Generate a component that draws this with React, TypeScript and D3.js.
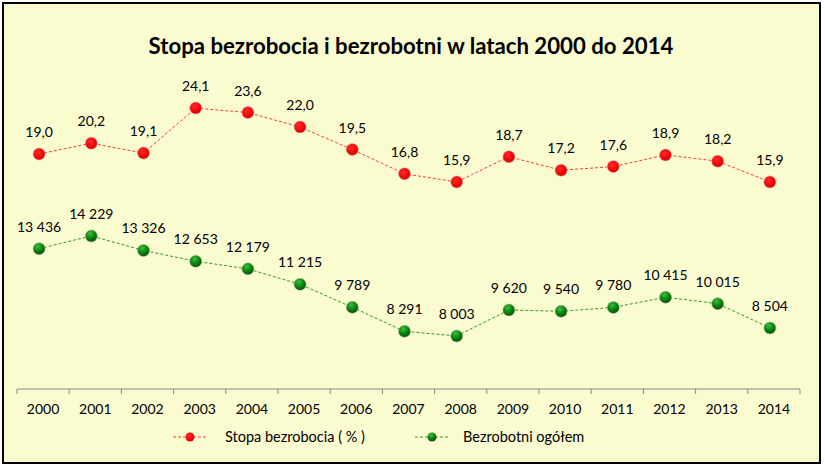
import React from "react";
import * as d3 from "d3";

const years = ["2000","2001","2002","2003","2004","2005","2006","2007","2008","2009","2010","2011","2012","2013","2014"];
const rate = [19.0, 20.2, 19.1, 24.1, 23.6, 22.0, 19.5, 16.8, 15.9, 18.7, 17.2, 17.6, 18.9, 18.2, 15.9];
const unemployed = [13436, 14229, 13326, 12653, 12179, 11215, 9789, 8291, 8003, 9620, 9540, 9780, 10415, 10015, 8504];
const title = "Stopa bezrobocia i bezrobotni w latach 2000 do 2014";
const seriesNames = ["Stopa bezrobocia ( % )", "Bezrobotni ogółem"];

const W = 825, H = 468;
const FONT = "Lato, 'Noto Sans', sans-serif";

export default function App() {
  const x = d3.scaleBand<string>().domain(years).range([17, 800]).padding(0);
  const bw = x.bandwidth();
  const px = (y: string) => (x(y) as number) + bw / 2 - 4;
  const yR = d3.scaleLinear().domain([15, 25]).range([190, 100]);
  const yG = d3.scaleLinear().domain([0, 16000]).range([464.5, 207.5]);
  const fmtR = (v: number) => d3.format(".1f")(v).replace(".", ",");
  const fmtG = (v: number) => d3.format(",")(v).replace(/,/g, " ");
  const lineR = d3.line<number>().x((_, i) => px(years[i])).y((d) => yR(d));
  const lineG = d3.line<number>().x((_, i) => px(years[i])).y((d) => yG(d));
  const axisY = 389;
  const ticks = years.map((y) => x(y) as number).concat([800]);

  return (
    <svg width={W} height={H} style={{ position: "absolute", left: 0, top: 0 }} fontFamily={FONT}>
      <defs>
        <radialGradient id="gRed" cx="40%" cy="35%" r="65%">
          <stop offset="0%" stopColor="#ff2a2a" />
          <stop offset="80%" stopColor="#ee0000" />
          <stop offset="100%" stopColor="#c01010" />
        </radialGradient>
        <radialGradient id="gGreen" cx="40%" cy="30%" r="70%">
          <stop offset="0%" stopColor="#3fbf3f" />
          <stop offset="50%" stopColor="#108a10" />
          <stop offset="100%" stopColor="#045004" />
        </radialGradient>
      </defs>
      <rect x={3} y={3} width={817} height={460} fill="#FBFBD0" stroke="#000" strokeWidth={2} />
      <text x={411} y={54} textAnchor="middle" fontSize={22.2} fontWeight="bold" fill="#000">{title}</text>

      <line x1={17} x2={800} y1={axisY} y2={axisY} stroke="#888" strokeWidth={1} />
      {ticks.map((t, i) => (
        <line key={i} x1={t} x2={t} y1={axisY} y2={axisY + 5} stroke="#888" strokeWidth={1} />
      ))}
      {years.map((y) => (
        <text key={y} x={(x(y) as number) + bw / 2} y={414} textAnchor="middle" fontSize={14} fill="#000">{y}</text>
      ))}

      <path d={lineR(rate) as string} fill="none" stroke="#ff3b3b" strokeWidth={1} strokeDasharray="3,2" />
      <path d={lineG(unemployed) as string} fill="none" stroke="#2e9a2e" strokeWidth={1} strokeDasharray="3,2" />

      {rate.map((v, i) => (
        <g key={"r" + i}>
          <circle cx={px(years[i])} cy={yR(v)} r={6} fill="url(#gRed)" stroke="#d9a0a0" strokeWidth={0.5} />
          <text x={px(years[i])} y={yR(v) - 17} textAnchor="middle" fontSize={14} fill="#000">{fmtR(v)}</text>
        </g>
      ))}
      {unemployed.map((v, i) => (
        <g key={"g" + i}>
          <circle cx={px(years[i])} cy={yG(v)} r={6} fill="url(#gGreen)" stroke="#9ab89a" strokeWidth={0.5} />
          <text x={px(years[i])} y={yG(v) - 17} textAnchor="middle" fontSize={14} fill="#000">{fmtG(v)}</text>
        </g>
      ))}

      <g>
        <line x1={173} x2={208} y1={437} y2={437} stroke="#ff3b3b" strokeWidth={1} strokeDasharray="3,2" />
        <circle cx={190} cy={437} r={4.5} fill="url(#gRed)" />
        <text x={225} y={442} fontSize={14.5} fill="#000">{seriesNames[0]}</text>
        <line x1={415} x2={449} y1={437} y2={437} stroke="#2e9a2e" strokeWidth={1} strokeDasharray="3,2" />
        <circle cx={432} cy={437} r={4.5} fill="url(#gGreen)" />
        <text x={463} y={442} fontSize={14.5} fill="#000">{seriesNames[1]}</text>
      </g>
    </svg>
  );
}
